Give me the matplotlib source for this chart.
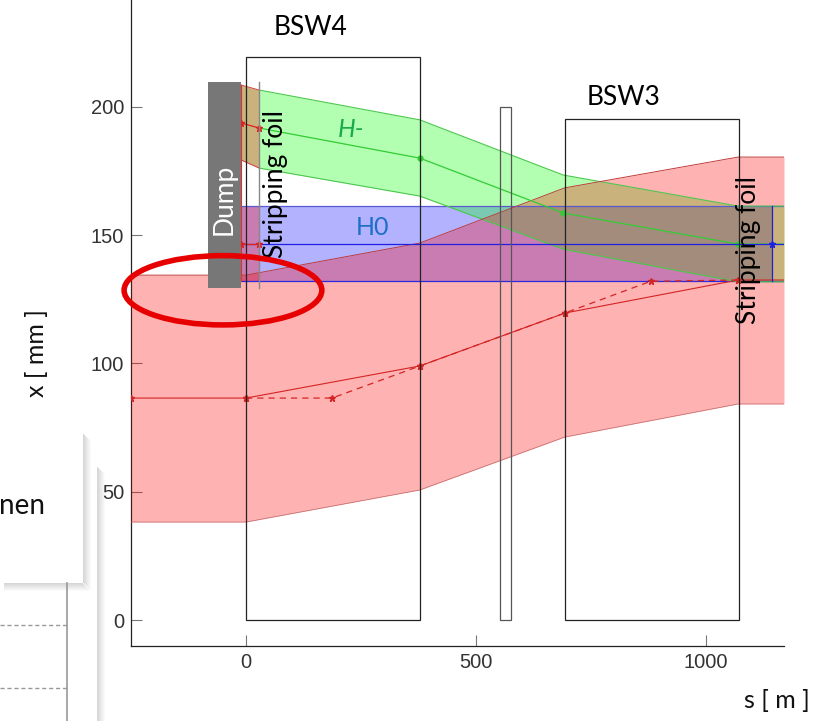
import matplotlib
matplotlib.use("Agg")
import matplotlib.pyplot as plt
from matplotlib.patches import Rectangle, Ellipse

# beam envelopes, s [m] vs x [mm]
s_red = [-250, 0, 378, 693, 1070, 1170]
red_top = [134.4, 134.4, 146.9, 168.4, 180.4, 180.4]
red_bot = [38.2, 38.2, 50.7, 71.3, 84.2, 84.2]
red_mid = [86.5, 86.5, 99.0, 119.6, 132.5, 132.5]

s_dash = [0, 187, 378, 693, 880, 1070]
x_dash = [86.5, 86.5, 99.0, 119.6, 132.0, 132.5]

s_grn = [-11, 29, 378, 690, 1070, 1170]
grn_top = [208.5, 206.5, 194.9, 173.4, 161.3, 161.3]
grn_bot = [179.3, 176.1, 165.2, 144.5, 131.8, 131.8]
grn_mid = [193.7, 191.7, 180.0, 158.6, 146.5, 146.5]

s_h0 = [-11, 1143]
h0_top = [161.3, 161.3]
h0_bot = [132.1, 132.1]
h0_mid = [146.5, 146.5]
h0_line_s = [-20, 1170]

# red section between dump and stripping foil
s_strip = [-11, 29]
strip_top = [208.5, 206.5]
strip_bot = [179.3, 176.1]

# magnets and elements (s start, s end, height)
bsw4 = (0, 378, 219.5)
bsw3 = (693, 1072, 195.2)
small_box = (552, 577, 200)
dump = (-83, -11, 129.4, 209.7)
foil_s = 29
foil_right_s = 1143

# highlight ellipse (centre s, centre x, width, height)
ring = (-50, 128.5, 430, 27)

W, H = 823, 721
fig = plt.figure(figsize=(W / 100, H / 100), dpi=100)
fig.patch.set_facecolor("white")


def px(x, y):
    return x / W, 1 - y / H


# ---- screenshot panels on the left ----
def shadow(x0, y0, w, h, side, n=8):
    for i in range(n):
        a = 0.16 * (1 - i / n)
        if side == "right":
            r = Rectangle(px(x0 + w + i, y0 + h + i), 1 / W, (h - 6) / H,
                          transform=fig.transFigure, color="black", alpha=a, lw=0)
        else:
            r = Rectangle(px(x0 + 4, y0 + h + i + 1), (w - 4 + i) / W, 1 / H,
                          transform=fig.transFigure, color="black", alpha=a, lw=0)
        fig.patches.append(r)


fig.patches.append(Rectangle(px(0, 721), 97 / W, 260 / H, transform=fig.transFigure,
                             facecolor="white", edgecolor="none"))
shadow(0, 461, 97, 266, "right")
fig.add_artist(plt.Line2D([67 / W, 67 / W], [1 - 583 / H, 0], transform=fig.transFigure,
                          color="#999999", lw=1.2))
for yy in [625, 688]:
    fig.add_artist(plt.Line2D([0, 67 / W], [1 - yy / H, 1 - yy / H], transform=fig.transFigure,
                              color="#999999", lw=1.0, ls=(0, (3, 2))))
fig.patches.append(Rectangle(px(0, 583), 83 / W, 155 / H, transform=fig.transFigure,
                             facecolor="white", edgecolor="none"))
shadow(0, 428, 83, 155, "right")
shadow(0, 428, 83, 155, "bottom")
fig.text(45 / W, 1 - 506 / H, "nen", ha="right", va="center", fontsize=20,
         family="Lato", color="#111111")

# ---- main axes ----
ax = fig.add_axes([131 / W, 1 - 646 / H, (784 - 131) / W, 646 / H])
ax.set_xlim(-250, 1170)
ax.set_ylim(-10.1, 241.6)
ax.patch.set_alpha(0)

ax.fill_between(s_h0, h0_bot, h0_top, color=(0, 0, 1), alpha=0.3, lw=0, zorder=1)
ax.fill_between(s_grn, grn_bot, grn_top, color=(0, 1, 0), alpha=0.3, lw=0, zorder=2)
ax.fill_between(s_red, red_bot, red_top, color=(1, 0, 0), alpha=0.3, lw=0, zorder=3)
ax.fill_between(s_strip, strip_bot, strip_top, color=(1, 0, 0), alpha=0.3, lw=0, zorder=3)
ax.fill_between(s_strip, [h0_bot[0]] * 2, [h0_top[0]] * 2, color=(1, 0, 0), alpha=0.3, lw=0, zorder=3)

# envelope edges
ax.plot(s_h0 + [s_red[-1]], h0_top + [h0_top[-1]], color="#5a5ad0", lw=0.9, zorder=4)
ax.plot(s_h0 + [s_red[-1]], h0_bot + [h0_bot[-1]], color="#2a2ae0", lw=0.9, zorder=4)
ax.plot(s_grn[1:], grn_top[1:], color="#4cc84c", lw=0.8, zorder=4)
ax.plot(s_grn[1:], grn_bot[1:], color="#4cc84c", lw=0.8, zorder=4)
ax.plot(s_red, red_top, color="#c03a3a", lw=0.7, zorder=4)
ax.plot(s_red, red_bot, color="#c06a6a", lw=0.5, zorder=4)
ax.plot(s_strip, strip_top, color="#d04040", lw=0.7, zorder=4)
ax.plot(s_strip, strip_bot, color="#d04040", lw=0.7, zorder=4)
ax.plot([s_strip[0]] * 2, [h0_bot[0], strip_top[0]], color="#e03030", lw=0.8, zorder=4)

# centre lines
ax.plot(s_red, red_mid, color="#d42424", lw=0.8, marker="*", ms=5,
        markevery=[0, 1, 2, 3, 4], zorder=6)
ax.plot(s_dash, x_dash, color="#d42424", lw=0.9, ls=(0, (5, 4)), marker="*", ms=5, zorder=6)
ax.plot(s_grn[1:], grn_mid[1:], color="#33cc33", lw=0.9, marker="o", ms=3.5,
        markevery=[1, 2, 3], zorder=6)
ax.plot(s_grn[:2], grn_mid[:2], color="#e02020", lw=0.9, marker="*", ms=5, zorder=6)
ax.plot(h0_line_s, h0_mid, color="#2020e0", lw=0.9, zorder=6)
ax.plot([h0_line_s[0]], [h0_mid[0]], color="#2020e0", marker="*", ms=5, ls="none", zorder=7)
ax.plot(s_strip, h0_mid, color="#e02020", marker="*", ms=5, lw=0.9, zorder=7)
ax.plot([foil_right_s] * 2, [h0_bot[0], h0_top[0]], color="#2020d0", lw=0.9, zorder=6)
ax.plot([foil_right_s], [h0_mid[0]], color="#2020e0", marker="*", ms=5, ls="none", zorder=7)

# magnets
for s0, s1, top in [bsw4, bsw3]:
    ax.add_patch(Rectangle((s0, 0), s1 - s0, top, fill=False, edgecolor="#222222", lw=0.9, zorder=8))
ax.add_patch(Rectangle((small_box[0], 0), small_box[1] - small_box[0], small_box[2],
                       fill=False, edgecolor="#555555", lw=0.9, zorder=8))

# dump and foil
ax.add_patch(Rectangle((dump[0], dump[2]), dump[1] - dump[0], dump[3] - dump[2],
                       facecolor="#777777", edgecolor="none", zorder=9))
ax.plot([foil_s] * 2, [dump[2], dump[3]], color="#888888", lw=1.0, zorder=9)

txt = dict(family="Lato", zorder=10)
ax.text(-47, 164, "Dump", rotation=90, ha="center", va="center", fontsize=19, color="white", **txt)
ax.text(64, 170, "Stripping foil", rotation=90, ha="center", va="center", fontsize=19, color="black", **txt)
ax.text(1093, 144, "Stripping foil", rotation=90, ha="center", va="center", fontsize=19, color="black", **txt)
ax.text(228, 191.3, "H-", ha="center", va="center", fontsize=18, color="#1aaa4a", style="italic", **txt)
ax.text(276, 152.8, "H0", ha="center", va="center", fontsize=18, color="#1f6fc8", **txt)
ax.text(140, 231, "BSW4", ha="center", va="center", fontsize=19, color="black", clip_on=False, **txt)
ax.text(822, 203.5, "BSW3", ha="center", va="center", fontsize=19, color="black", **txt)

ax.add_patch(Ellipse((ring[0], ring[1]), ring[2], ring[3], fill=False, edgecolor="#e60000",
                     lw=4, zorder=12, clip_on=False))

# axes styling
for side in ["top", "right"]:
    ax.spines[side].set_visible(False)
for side in ["left", "bottom"]:
    ax.spines[side].set_color("#222222")
    ax.spines[side].set_linewidth(0.9)
ax.set_xticks([0, 500, 1000])
ax.set_yticks([0, 50, 100, 150, 200])
ax.tick_params(direction="in", length=8, width=0.8, color="#777777", labelsize=14.5,
               labelcolor="#333333", pad=5)
for lab in ax.get_xticklabels() + ax.get_yticklabels():
    lab.set_family("Liberation Sans")

fig.text(37 / W, 1 - 353 / H, "x [ mm ]", rotation=90, ha="center", va="center",
         fontsize=18, family="Lato", color="#111111")
fig.text(777 / W, 1 - 700 / H, "s [ m ]", ha="center", va="center",
         fontsize=18, family="Lato", color="#111111")

fig.savefig("out.png", dpi=100, facecolor="white")
